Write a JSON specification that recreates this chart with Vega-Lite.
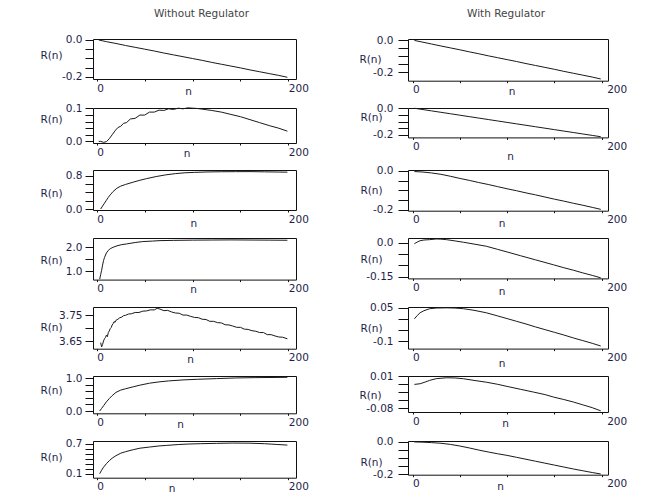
{
  "$schema": "https://vega.github.io/schema/vega-lite/v6.json",
  "autosize": {"type": "none"},
  "padding": {"left": 93, "top": 39, "right": 553, "bottom": 457},
  "background": "white",
  "columns": 2,
  "spacing": {"row": 27, "column": 112},
  "bounds": "flush",
  "align": "each",
  "config": {
    "view": {"stroke": "#111111", "strokeWidth": 1},
    "axis": {"grid": false, "domain": false, "labelFont": "DejaVu Sans", "labelFontSize": 10.5, "labelColor": "#1e1e4a", "titleFont": "DejaVu Sans", "titleFontSize": 10.5, "titleFontWeight": "normal", "titleColor": "#1e1e4a", "tickColor": "#111111", "tickWidth": 1, "labelFlush": false, "labelOverlap": false, "labelBound": false},
    "axisX": {"tickSize": 2, "labelPadding": 2, "labelAlign": "left", "labelBaseline": "top", "titleAlign": "center", "titleBaseline": "middle", "titleAngle": 0},
    "axisY": {"tickSize": 8, "labelPadding": 3, "labelAlign": "right", "labelBaseline": "middle", "titleAngle": 0, "titleAlign": "center", "titleBaseline": "middle", "titleX": -42},
    "title": {"font": "DejaVu Sans", "fontSize": 10.5, "fontWeight": "normal", "color": "#444444", "anchor": "middle", "frame": "group"},
    "line": {"color": "#1a1a1a", "strokeWidth": 1, "clip": true}
  },
  "datasets": {
    "d": [
      {"p":"L1","n":2,"R":0},{"p":"L1","n":10,"R":-0.009},{"p":"L1","n":20,"R":-0.019},{"p":"L1","n":30,"R":-0.030},{"p":"L1","n":40,"R":-0.040},{"p":"L1","n":50,"R":-0.050},{"p":"L1","n":60,"R":-0.060},{"p":"L1","n":70,"R":-0.071},{"p":"L1","n":80,"R":-0.081},{"p":"L1","n":90,"R":-0.091},{"p":"L1","n":100,"R":-0.101},{"p":"L1","n":110,"R":-0.111},{"p":"L1","n":120,"R":-0.122},{"p":"L1","n":130,"R":-0.132},{"p":"L1","n":140,"R":-0.142},{"p":"L1","n":150,"R":-0.152},{"p":"L1","n":160,"R":-0.163},{"p":"L1","n":170,"R":-0.173},{"p":"L1","n":180,"R":-0.183},{"p":"L1","n":190,"R":-0.193},{"p":"L1","n":199,"R":-0.203},

      {"p":"L2","n":2,"R":0.000},{"p":"L2","n":4,"R":0.000},{"p":"L2","n":7,"R":-0.003},{"p":"L2","n":10,"R":-0.001},{"p":"L2","n":13,"R":0.008},{"p":"L2","n":16,"R":0.020},{"p":"L2","n":19,"R":0.032},{"p":"L2","n":22,"R":0.042},{"p":"L2","n":25,"R":0.046},{"p":"L2","n":28,"R":0.055},{"p":"L2","n":31,"R":0.057},{"p":"L2","n":35,"R":0.068},{"p":"L2","n":40,"R":0.070},{"p":"L2","n":45,"R":0.080},{"p":"L2","n":50,"R":0.080},{"p":"L2","n":55,"R":0.089},{"p":"L2","n":60,"R":0.089},{"p":"L2","n":65,"R":0.095},{"p":"L2","n":70,"R":0.094},{"p":"L2","n":75,"R":0.099},{"p":"L2","n":80,"R":0.097},{"p":"L2","n":85,"R":0.101},{"p":"L2","n":90,"R":0.099},{"p":"L2","n":95,"R":0.102},{"p":"L2","n":100,"R":0.101},{"p":"L2","n":105,"R":0.100},{"p":"L2","n":110,"R":0.098},{"p":"L2","n":115,"R":0.096},{"p":"L2","n":120,"R":0.094},{"p":"L2","n":130,"R":0.089},{"p":"L2","n":140,"R":0.082},{"p":"L2","n":150,"R":0.075},{"p":"L2","n":160,"R":0.066},{"p":"L2","n":170,"R":0.057},{"p":"L2","n":180,"R":0.048},{"p":"L2","n":190,"R":0.040},{"p":"L2","n":199,"R":0.031},

      {"p":"L3","n":4,"R":0.00},{"p":"L3","n":6,"R":0.07},{"p":"L3","n":8,"R":0.14},{"p":"L3","n":10,"R":0.21},{"p":"L3","n":12,"R":0.28},{"p":"L3","n":14,"R":0.34},{"p":"L3","n":17,"R":0.42},{"p":"L3","n":21,"R":0.50},{"p":"L3","n":25,"R":0.55},{"p":"L3","n":30,"R":0.59},{"p":"L3","n":38,"R":0.645},{"p":"L3","n":45,"R":0.69},{"p":"L3","n":52,"R":0.73},{"p":"L3","n":62,"R":0.78},{"p":"L3","n":72,"R":0.82},{"p":"L3","n":82,"R":0.85},{"p":"L3","n":92,"R":0.87},{"p":"L3","n":102,"R":0.88},{"p":"L3","n":115,"R":0.89},{"p":"L3","n":130,"R":0.895},{"p":"L3","n":145,"R":0.897},{"p":"L3","n":160,"R":0.898},{"p":"L3","n":175,"R":0.893},{"p":"L3","n":190,"R":0.888},{"p":"L3","n":199,"R":0.885},

      {"p":"L4","n":3,"R":0.66},{"p":"L4","n":4,"R":0.85},{"p":"L4","n":5,"R":1.03},{"p":"L4","n":6,"R":1.25},{"p":"L4","n":7,"R":1.44},{"p":"L4","n":8,"R":1.57},{"p":"L4","n":10,"R":1.76},{"p":"L4","n":12,"R":1.87},{"p":"L4","n":14,"R":1.94},{"p":"L4","n":17,"R":2.0},{"p":"L4","n":21,"R":2.06},{"p":"L4","n":26,"R":2.11},{"p":"L4","n":31,"R":2.14},{"p":"L4","n":40,"R":2.2},{"p":"L4","n":48,"R":2.24},{"p":"L4","n":58,"R":2.26},{"p":"L4","n":66,"R":2.28},{"p":"L4","n":80,"R":2.29},{"p":"L4","n":100,"R":2.3},{"p":"L4","n":120,"R":2.305},{"p":"L4","n":140,"R":2.31},{"p":"L4","n":160,"R":2.305},{"p":"L4","n":180,"R":2.3},{"p":"L4","n":199,"R":2.295},

      {"p":"L5","n":4,"R":3.645},{"p":"L5","n":5,"R":3.629},{"p":"L5","n":6,"R":3.638},{"p":"L5","n":7,"R":3.652},{"p":"L5","n":8,"R":3.660},{"p":"L5","n":9,"R":3.665},{"p":"L5","n":10,"R":3.674},{"p":"L5","n":11,"R":3.668},{"p":"L5","n":12,"R":3.684},{"p":"L5","n":13,"R":3.690},{"p":"L5","n":14,"R":3.699},{"p":"L5","n":15,"R":3.703},{"p":"L5","n":16,"R":3.713},{"p":"L5","n":17,"R":3.718},{"p":"L5","n":18,"R":3.726},{"p":"L5","n":19,"R":3.723},{"p":"L5","n":20,"R":3.731},{"p":"L5","n":22,"R":3.735},{"p":"L5","n":24,"R":3.741},{"p":"L5","n":26,"R":3.743},{"p":"L5","n":28,"R":3.749},{"p":"L5","n":30,"R":3.750},{"p":"L5","n":33,"R":3.755},{"p":"L5","n":36,"R":3.756},{"p":"L5","n":40,"R":3.761},{"p":"L5","n":44,"R":3.761},{"p":"L5","n":48,"R":3.766},{"p":"L5","n":52,"R":3.767},{"p":"L5","n":56,"R":3.771},{"p":"L5","n":60,"R":3.771},{"p":"L5","n":63,"R":3.777},{"p":"L5","n":66,"R":3.774},{"p":"L5","n":70,"R":3.768},{"p":"L5","n":74,"R":3.769},{"p":"L5","n":78,"R":3.763},{"p":"L5","n":82,"R":3.759},{"p":"L5","n":86,"R":3.758},{"p":"L5","n":90,"R":3.751},{"p":"L5","n":94,"R":3.751},{"p":"L5","n":98,"R":3.746},{"p":"L5","n":102,"R":3.742},{"p":"L5","n":106,"R":3.741},{"p":"L5","n":110,"R":3.735},{"p":"L5","n":114,"R":3.734},{"p":"L5","n":118,"R":3.727},{"p":"L5","n":122,"R":3.727},{"p":"L5","n":126,"R":3.722},{"p":"L5","n":130,"R":3.721},{"p":"L5","n":134,"R":3.714},{"p":"L5","n":138,"R":3.713},{"p":"L5","n":142,"R":3.709},{"p":"L5","n":146,"R":3.704},{"p":"L5","n":150,"R":3.704},{"p":"L5","n":154,"R":3.697},{"p":"L5","n":158,"R":3.696},{"p":"L5","n":162,"R":3.691},{"p":"L5","n":166,"R":3.689},{"p":"L5","n":170,"R":3.684},{"p":"L5","n":174,"R":3.684},{"p":"L5","n":178,"R":3.676},{"p":"L5","n":182,"R":3.676},{"p":"L5","n":186,"R":3.671},{"p":"L5","n":190,"R":3.667},{"p":"L5","n":194,"R":3.666},{"p":"L5","n":199,"R":3.660},

      {"p":"L6","n":3,"R":0.00},{"p":"L6","n":5,"R":0.08},{"p":"L6","n":7,"R":0.16},{"p":"L6","n":10,"R":0.28},{"p":"L6","n":13,"R":0.38},{"p":"L6","n":16,"R":0.47},{"p":"L6","n":20,"R":0.57},{"p":"L6","n":25,"R":0.64},{"p":"L6","n":30,"R":0.68},{"p":"L6","n":38,"R":0.74},{"p":"L6","n":45,"R":0.79},{"p":"L6","n":55,"R":0.85},{"p":"L6","n":65,"R":0.89},{"p":"L6","n":75,"R":0.92},{"p":"L6","n":90,"R":0.95},{"p":"L6","n":105,"R":0.97},{"p":"L6","n":125,"R":0.99},{"p":"L6","n":145,"R":1.01},{"p":"L6","n":165,"R":1.02},{"p":"L6","n":185,"R":1.025},{"p":"L6","n":199,"R":1.03},

      {"p":"L7","n":3,"R":0.10},{"p":"L7","n":5,"R":0.17},{"p":"L7","n":7,"R":0.23},{"p":"L7","n":10,"R":0.30},{"p":"L7","n":13,"R":0.36},{"p":"L7","n":16,"R":0.41},{"p":"L7","n":20,"R":0.46},{"p":"L7","n":25,"R":0.51},{"p":"L7","n":30,"R":0.54},{"p":"L7","n":38,"R":0.58},{"p":"L7","n":45,"R":0.61},{"p":"L7","n":55,"R":0.633},{"p":"L7","n":65,"R":0.655},{"p":"L7","n":73,"R":0.666},{"p":"L7","n":85,"R":0.683},{"p":"L7","n":95,"R":0.693},{"p":"L7","n":108,"R":0.70},{"p":"L7","n":125,"R":0.707},{"p":"L7","n":142,"R":0.713},{"p":"L7","n":160,"R":0.71},{"p":"L7","n":175,"R":0.70},{"p":"L7","n":188,"R":0.685},{"p":"L7","n":199,"R":0.672},

      {"p":"R1","n":2,"R":0.0},{"p":"R1","n":10,"R":-0.010},{"p":"R1","n":20,"R":-0.0225},{"p":"R1","n":30,"R":-0.035},{"p":"R1","n":40,"R":-0.047},{"p":"R1","n":50,"R":-0.059},{"p":"R1","n":60,"R":-0.072},{"p":"R1","n":70,"R":-0.084},{"p":"R1","n":80,"R":-0.097},{"p":"R1","n":90,"R":-0.109},{"p":"R1","n":100,"R":-0.121},{"p":"R1","n":110,"R":-0.133},{"p":"R1","n":120,"R":-0.146},{"p":"R1","n":130,"R":-0.158},{"p":"R1","n":140,"R":-0.170},{"p":"R1","n":150,"R":-0.182},{"p":"R1","n":160,"R":-0.195},{"p":"R1","n":170,"R":-0.207},{"p":"R1","n":180,"R":-0.219},{"p":"R1","n":190,"R":-0.231},{"p":"R1","n":199,"R":-0.243},

      {"p":"R2","n":2,"R":0.0},{"p":"R2","n":10,"R":-0.0087},{"p":"R2","n":20,"R":-0.0196},{"p":"R2","n":30,"R":-0.0305},{"p":"R2","n":40,"R":-0.0414},{"p":"R2","n":50,"R":-0.0523},{"p":"R2","n":60,"R":-0.0632},{"p":"R2","n":70,"R":-0.0741},{"p":"R2","n":80,"R":-0.085},{"p":"R2","n":90,"R":-0.0959},{"p":"R2","n":100,"R":-0.1068},{"p":"R2","n":110,"R":-0.1177},{"p":"R2","n":120,"R":-0.1286},{"p":"R2","n":130,"R":-0.1395},{"p":"R2","n":140,"R":-0.1504},{"p":"R2","n":150,"R":-0.1613},{"p":"R2","n":160,"R":-0.1722},{"p":"R2","n":170,"R":-0.1831},{"p":"R2","n":180,"R":-0.194},{"p":"R2","n":190,"R":-0.2049},{"p":"R2","n":199,"R":-0.2147},

      {"p":"R3","n":2,"R":-0.004},{"p":"R3","n":10,"R":-0.006},{"p":"R3","n":20,"R":-0.011},{"p":"R3","n":30,"R":-0.018},{"p":"R3","n":40,"R":-0.028},{"p":"R3","n":50,"R":-0.039},{"p":"R3","n":60,"R":-0.049},{"p":"R3","n":70,"R":-0.060},{"p":"R3","n":80,"R":-0.070},{"p":"R3","n":90,"R":-0.081},{"p":"R3","n":100,"R":-0.092},{"p":"R3","n":110,"R":-0.102},{"p":"R3","n":120,"R":-0.113},{"p":"R3","n":130,"R":-0.123},{"p":"R3","n":140,"R":-0.134},{"p":"R3","n":150,"R":-0.145},{"p":"R3","n":160,"R":-0.155},{"p":"R3","n":170,"R":-0.166},{"p":"R3","n":180,"R":-0.176},{"p":"R3","n":190,"R":-0.187},{"p":"R3","n":199,"R":-0.197},

      {"p":"R4","n":2,"R":-0.003},{"p":"R4","n":5,"R":0.004},{"p":"R4","n":8,"R":0.010},{"p":"R4","n":12,"R":0.013},{"p":"R4","n":18,"R":0.0146},{"p":"R4","n":25,"R":0.0176},{"p":"R4","n":30,"R":0.017},{"p":"R4","n":36,"R":0.0146},{"p":"R4","n":45,"R":0.009},{"p":"R4","n":54,"R":0.003},{"p":"R4","n":65,"R":-0.005},{"p":"R4","n":78,"R":-0.0146},{"p":"R4","n":90,"R":-0.0285},{"p":"R4","n":100,"R":-0.040},{"p":"R4","n":114,"R":-0.0565},{"p":"R4","n":130,"R":-0.075},{"p":"R4","n":149,"R":-0.097},{"p":"R4","n":160,"R":-0.110},{"p":"R4","n":170,"R":-0.121},{"p":"R4","n":180,"R":-0.133},{"p":"R4","n":190,"R":-0.144},{"p":"R4","n":199,"R":-0.155},

      {"p":"R5","n":2,"R":0.000},{"p":"R5","n":5,"R":0.015},{"p":"R5","n":8,"R":0.027},{"p":"R5","n":12,"R":0.036},{"p":"R5","n":18,"R":0.045},{"p":"R5","n":25,"R":0.048},{"p":"R5","n":36,"R":0.049},{"p":"R5","n":45,"R":0.048},{"p":"R5","n":54,"R":0.045},{"p":"R5","n":65,"R":0.038},{"p":"R5","n":78,"R":0.027},{"p":"R5","n":90,"R":0.013},{"p":"R5","n":100,"R":0.001},{"p":"R5","n":110,"R":-0.011},{"p":"R5","n":120,"R":-0.023},{"p":"R5","n":130,"R":-0.036},{"p":"R5","n":140,"R":-0.048},{"p":"R5","n":150,"R":-0.060},{"p":"R5","n":160,"R":-0.072},{"p":"R5","n":170,"R":-0.085},{"p":"R5","n":180,"R":-0.097},{"p":"R5","n":190,"R":-0.109},{"p":"R5","n":199,"R":-0.121},

      {"p":"R6","n":2,"R":-0.0133},{"p":"R6","n":8,"R":-0.0114},{"p":"R6","n":14,"R":-0.006},{"p":"R6","n":18,"R":-0.002},{"p":"R6","n":25,"R":0.003},{"p":"R6","n":36,"R":0.0055},{"p":"R6","n":45,"R":0.005},{"p":"R6","n":54,"R":0.0027},{"p":"R6","n":65,"R":-0.002},{"p":"R6","n":78,"R":-0.007},{"p":"R6","n":90,"R":-0.013},{"p":"R6","n":100,"R":-0.019},{"p":"R6","n":114,"R":-0.027},{"p":"R6","n":128,"R":-0.035},{"p":"R6","n":140,"R":-0.042},{"p":"R6","n":149,"R":-0.049},{"p":"R6","n":160,"R":-0.056},{"p":"R6","n":170,"R":-0.063},{"p":"R6","n":180,"R":-0.071},{"p":"R6","n":190,"R":-0.079},{"p":"R6","n":199,"R":-0.088},

      {"p":"R7","n":2,"R":0.0},{"p":"R7","n":10,"R":-0.001},{"p":"R7","n":20,"R":-0.004},{"p":"R7","n":30,"R":-0.008},{"p":"R7","n":40,"R":-0.015},{"p":"R7","n":50,"R":-0.025},{"p":"R7","n":60,"R":-0.037},{"p":"R7","n":70,"R":-0.050},{"p":"R7","n":80,"R":-0.062},{"p":"R7","n":90,"R":-0.073},{"p":"R7","n":100,"R":-0.083},{"p":"R7","n":110,"R":-0.095},{"p":"R7","n":120,"R":-0.107},{"p":"R7","n":130,"R":-0.119},{"p":"R7","n":140,"R":-0.131},{"p":"R7","n":150,"R":-0.143},{"p":"R7","n":160,"R":-0.155},{"p":"R7","n":170,"R":-0.167},{"p":"R7","n":180,"R":-0.178},{"p":"R7","n":190,"R":-0.189},{"p":"R7","n":199,"R":-0.198}
    ]
  },
  "concat": [
    {
      "width": 203, "height": 40,
      "title": {"text": "Without Regulator", "dx": 7, "offset": 15},
      "data": {"name": "d"}, "transform": [{"filter": "datum.p == 'L1'"}],
      "mark": "line",
      "encoding": {
        "x": {"field": "n", "type": "quantitative", "title": "n", "scale": {"domain": [-4, 208], "nice": false, "zero": false}, "axis": {"values": [0, 50, 100, 150, 200], "labelExpr": "datum.value == 0 || datum.value == 200 ? datum.label : ''", "titleX": 95, "titleY": 12}},
        "y": {"field": "R", "type": "quantitative", "title": "R(n)", "scale": {"domain": [-0.2125, 0.0054], "nice": false, "zero": false}, "axis": {"values": [0, -0.05, -0.1, -0.15, -0.2], "labelExpr": "datum.value == 0 ? '0.0' : datum.value == -0.2 ? '-0.2' : ''", "titleY": 16}}
      }
    },
    {
      "width": 200, "height": 41.7,
      "title": {"text": "With Regulator", "dx": -2, "offset": 16},
      "data": {"name": "d"}, "transform": [{"filter": "datum.p == 'R1'"}],
      "mark": "line",
      "encoding": {
        "x": {"field": "n", "type": "quantitative", "title": "n", "scale": {"domain": [-4.8, 206.7], "nice": false, "zero": false}, "axis": {"values": [0, 50, 100, 150, 200], "labelExpr": "datum.value == 0 || datum.value == 200 ? datum.label : ''", "labelOffset": {"condition": {"test": "datum.value == 200", "value": 5}, "value": 0}, "titleX": 103.7, "titleY": 11}},
        "y": {"field": "R", "type": "quantitative", "title": "R(n)", "scale": {"domain": [-0.254, 0.009], "nice": false, "zero": false}, "axis": {"values": [0, -0.05, -0.1, -0.15, -0.2], "labelExpr": "datum.value == 0 ? '0.0' : datum.value == -0.2 ? '-0.2' : ''", "tickSize": 10, "labelPadding": 5, "titleX": -38, "titleY": 20.5}}
      }
    },
    {
      "width": 203, "height": 35,
      "data": {"name": "d"}, "transform": [{"filter": "datum.p == 'L2'"}],
      "mark": "line",
      "encoding": {
        "x": {"field": "n", "type": "quantitative", "title": "n", "scale": {"domain": [-4, 208], "nice": false, "zero": false}, "axis": {"values": [0, 50, 100, 150, 200], "labelExpr": "datum.value == 0 || datum.value == 200 ? datum.label : ''", "titleX": 93.7, "titleY": 10.4}},
        "y": {"field": "R", "type": "quantitative", "title": "R(n)", "scale": {"domain": [-0.005, 0.1015], "nice": false, "zero": false}, "axis": {"values": [0, 0.02, 0.04, 0.06, 0.08, 0.1], "labelExpr": "datum.value == 0 ? '0.0' : datum.value == 0.1 ? '0.1' : ''", "titleY": 11.7}}
      }
    },
    {
      "width": 200, "height": 29.4,
      "data": {"name": "d"}, "transform": [{"filter": "datum.p == 'R2'"}],
      "mark": "line",
      "encoding": {
        "x": {"field": "n", "type": "quantitative", "title": "n", "scale": {"domain": [-4.8, 206.7], "nice": false, "zero": false}, "axis": {"values": [0, 50, 100, 150, 200], "labelExpr": "datum.value == 0 || datum.value == 200 ? datum.label : ''", "labelOffset": {"condition": {"test": "datum.value == 200", "value": 5}, "value": 0}, "titleX": 102, "titleY": 19.3}},
        "y": {"field": "R", "type": "quantitative", "title": "R(n)", "scale": {"domain": [-0.22, 0.002], "nice": false, "zero": false}, "axis": {"values": [0, -0.05, -0.1, -0.15, -0.2], "labelExpr": "datum.value == 0 ? '0.0' : datum.value == -0.2 ? '-0.2' : ''", "tickSize": 10, "labelPadding": 5, "titleX": -37, "titleY": 9.4}}
      }
    },
    {
      "width": 203, "height": 40,
      "data": {"name": "d"}, "transform": [{"filter": "datum.p == 'L3'"}],
      "mark": "line",
      "encoding": {
        "x": {"field": "n", "type": "quantitative", "title": "n", "scale": {"domain": [-4, 208], "nice": false, "zero": false}, "axis": {"values": [0, 50, 100, 150, 200], "labelExpr": "datum.value == 0 || datum.value == 200 ? datum.label : ''", "titleX": 100.3, "titleY": 13.4}},
        "y": {"field": "R", "type": "quantitative", "title": "R(n)", "scale": {"domain": [-0.024, 0.937], "nice": false, "zero": false}, "axis": {"values": [0, 0.2, 0.4, 0.6, 0.8], "labelExpr": "datum.value == 0 ? '0.0' : datum.value == 0.8 ? '0.8' : ''", "titleY": 23.4}}
      }
    },
    {
      "width": 200, "height": 40.7,
      "data": {"name": "d"}, "transform": [{"filter": "datum.p == 'R3'"}],
      "mark": "line",
      "encoding": {
        "x": {"field": "n", "type": "quantitative", "title": "n", "scale": {"domain": [-4.8, 206.7], "nice": false, "zero": false}, "axis": {"values": [0, 50, 100, 150, 200], "labelExpr": "datum.value == 0 || datum.value == 200 ? datum.label : ''", "labelOffset": {"condition": {"test": "datum.value == 200", "value": 5}, "value": 0}, "titleX": 93.7, "titleY": 12.7}},
        "y": {"field": "R", "type": "quantitative", "title": "R(n)", "scale": {"domain": [-0.204, 0.004], "nice": false, "zero": false}, "axis": {"values": [0, -0.05, -0.1, -0.15, -0.2], "labelExpr": "datum.value == 0 ? '0.0' : datum.value == -0.2 ? '-0.2' : ''", "tickSize": 10, "labelPadding": 5, "titleX": -37, "titleY": 20.7}}
      }
    },
    {
      "width": 203, "height": 41.6,
      "data": {"name": "d"}, "transform": [{"filter": "datum.p == 'L4'"}],
      "mark": "line",
      "encoding": {
        "x": {"field": "n", "type": "quantitative", "title": "n", "scale": {"domain": [-4, 208], "nice": false, "zero": false}, "axis": {"values": [0, 50, 100, 150, 200], "labelExpr": "datum.value == 0 || datum.value == 200 ? datum.label : ''", "titleX": 100, "titleY": 10}},
        "y": {"field": "R", "type": "quantitative", "title": "R(n)", "scale": {"domain": [0.64, 2.39], "nice": false, "zero": false}, "axis": {"values": [1, 1.5, 2], "labelExpr": "datum.value == 1 ? '1.0' : datum.value == 2 ? '2.0' : ''", "titleY": 22.3}}
      }
    },
    {
      "width": 200, "height": 40.4,
      "data": {"name": "d"}, "transform": [{"filter": "datum.p == 'R4'"}],
      "mark": "line",
      "encoding": {
        "x": {"field": "n", "type": "quantitative", "title": "n", "scale": {"domain": [-4.8, 206.7], "nice": false, "zero": false}, "axis": {"values": [0, 50, 100, 150, 200], "labelExpr": "datum.value == 0 || datum.value == 200 ? datum.label : ''", "labelOffset": {"condition": {"test": "datum.value == 200", "value": 5}, "value": 0}, "titleX": 93.7, "titleY": 12.7}},
        "y": {"field": "R", "type": "quantitative", "title": "R(n)", "scale": {"domain": [-0.1575, 0.022], "nice": false, "zero": false}, "axis": {"values": [0, -0.05, -0.1, -0.15], "labelExpr": "datum.value == 0 ? '0.0' : datum.value == -0.15 ? '-0.15' : ''", "tickSize": 10, "labelPadding": 5, "titleX": -37, "titleY": 21.7}}
      }
    },
    {
      "width": 203, "height": 41.7,
      "data": {"name": "d"}, "transform": [{"filter": "datum.p == 'L5'"}],
      "mark": "line",
      "encoding": {
        "x": {"field": "n", "type": "quantitative", "title": "n", "scale": {"domain": [-4, 208], "nice": false, "zero": false}, "axis": {"values": [0, 50, 100, 150, 200], "labelExpr": "datum.value == 0 || datum.value == 200 ? datum.label : ''", "titleX": 97, "titleY": 10.3}},
        "y": {"field": "R", "type": "quantitative", "title": "R(n)", "scale": {"domain": [3.622, 3.782], "nice": false, "zero": false}, "axis": {"values": [3.65, 3.7, 3.75], "labelExpr": "datum.value == 3.65 ? '3.65' : datum.value == 3.75 ? '3.75' : ''", "titleY": 20.3}}
      }
    },
    {
      "width": 200, "height": 41.6,
      "data": {"name": "d"}, "transform": [{"filter": "datum.p == 'R5'"}],
      "mark": "line",
      "encoding": {
        "x": {"field": "n", "type": "quantitative", "title": "n", "scale": {"domain": [-4.8, 206.7], "nice": false, "zero": false}, "axis": {"values": [0, 50, 100, 150, 200], "labelExpr": "datum.value == 0 || datum.value == 200 ? datum.label : ''", "labelOffset": {"condition": {"test": "datum.value == 200", "value": 5}, "value": 0}, "titleX": 93.7, "titleY": 14.4}},
        "y": {"field": "R", "type": "quantitative", "title": "R(n)", "scale": {"domain": [-0.1326, 0.0527], "nice": false, "zero": false}, "axis": {"values": [0.05, 0, -0.05, -0.1], "labelExpr": "datum.value == 0.05 ? '0.05' : datum.value == -0.1 ? '-0.1' : ''", "tickSize": 10, "labelPadding": 5, "titleX": -37, "titleY": 21.6}}
      }
    },
    {
      "width": 203, "height": 37.3,
      "data": {"name": "d"}, "transform": [{"filter": "datum.p == 'L6'"}],
      "mark": "line",
      "encoding": {
        "x": {"field": "n", "type": "quantitative", "title": "n", "scale": {"domain": [-4, 208], "nice": false, "zero": false}, "axis": {"values": [0, 50, 100, 150, 200], "labelExpr": "datum.value == 0 || datum.value == 200 ? datum.label : ''", "titleX": 87, "titleY": 11}},
        "y": {"field": "R", "type": "quantitative", "title": "R(n)", "scale": {"domain": [-0.07, 1.07], "nice": false, "zero": false}, "axis": {"values": [0, 0.2, 0.4, 0.6, 0.8, 1], "labelExpr": "datum.value == 0 ? '0.0' : datum.value == 1 ? '1.0' : ''", "titleY": 14.7}}
      }
    },
    {
      "width": 200, "height": 36,
      "data": {"name": "d"}, "transform": [{"filter": "datum.p == 'R6'"}],
      "mark": "line",
      "encoding": {
        "x": {"field": "n", "type": "quantitative", "title": "n", "scale": {"domain": [-4.8, 206.7], "nice": false, "zero": false}, "axis": {"values": [0, 50, 100, 150, 200], "labelExpr": "datum.value == 0 || datum.value == 200 ? datum.label : ''", "labelOffset": {"condition": {"test": "datum.value == 200", "value": 5}, "value": 0}, "titleX": 97, "titleY": 11}},
        "y": {"field": "R", "type": "quantitative", "title": "R(n)", "scale": {"domain": [-0.0913, 0.0105], "nice": false, "zero": false}, "axis": {"values": [0.01, -0.0125, -0.035, -0.0575, -0.08], "labelExpr": "datum.value == 0.01 ? '0.01' : datum.value == -0.08 ? '-0.08' : ''", "tickSize": 10, "labelPadding": 5, "titleX": -38, "titleY": 19}}
      }
    },
    {
      "width": 203, "height": 36.7,
      "data": {"name": "d"}, "transform": [{"filter": "datum.p == 'L7'"}],
      "mark": "line",
      "encoding": {
        "x": {"field": "n", "type": "quantitative", "title": "n", "scale": {"domain": [-4, 208], "nice": false, "zero": false}, "axis": {"values": [0, 50, 100, 150, 200], "labelExpr": "datum.value == 0 || datum.value == 200 ? datum.label : ''", "titleX": 78.7, "titleY": 10.3}},
        "y": {"field": "R", "type": "quantitative", "title": "R(n)", "scale": {"domain": [0.02, 0.754], "nice": false, "zero": false}, "axis": {"values": [0.1, 0.2, 0.3, 0.4, 0.5, 0.6, 0.7], "labelExpr": "datum.value == 0.1 ? '0.1' : datum.value == 0.7 ? '0.7' : ''", "titleY": 16}}
      }
    },
    {
      "width": 200, "height": 33.7,
      "data": {"name": "d"}, "transform": [{"filter": "datum.p == 'R7'"}],
      "mark": "line",
      "encoding": {
        "x": {"field": "n", "type": "quantitative", "title": "n", "scale": {"domain": [-4.8, 206.7], "nice": false, "zero": false}, "axis": {"values": [0, 50, 100, 150, 200], "labelExpr": "datum.value == 0 || datum.value == 200 ? datum.label : ''", "labelOffset": {"condition": {"test": "datum.value == 200", "value": 5}, "value": 0}, "titleX": 92, "titleY": 11.6}},
        "y": {"field": "R", "type": "quantitative", "title": "R(n)", "scale": {"domain": [-0.2025, 0.006], "nice": false, "zero": false}, "axis": {"values": [0, -0.05, -0.1, -0.15, -0.2], "labelExpr": "datum.value == 0 ? '0.0' : datum.value == -0.2 ? '-0.2' : ''", "tickSize": 10, "labelPadding": 5, "titleX": -37, "titleY": 21.7}}
      }
    }
  ]
}
